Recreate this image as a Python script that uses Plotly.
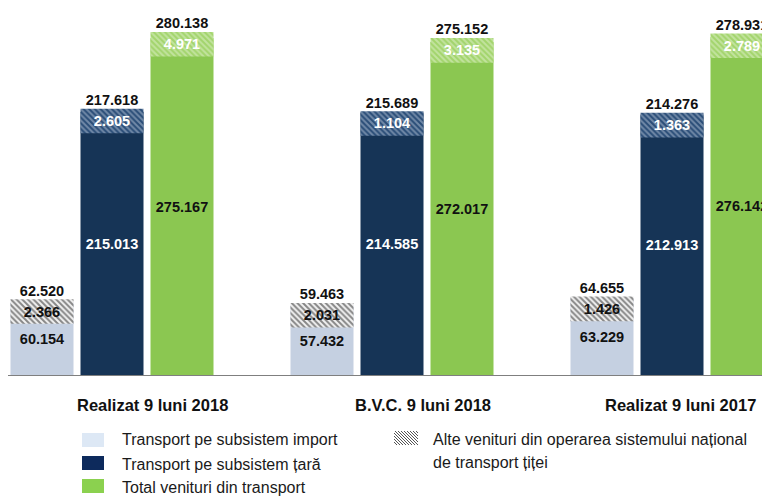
import plotly.graph_objects as go

categories = ["Realizat 9 luni 2018", "B.V.C. 9 luni 2018", "Realizat 9 luni 2017"]

# thousand lei, shown with "." as thousands separator
import_base = [60.154, 57.432, 63.229]
import_other = [2.366, 2.031, 1.426]
tara_base = [215.013, 214.585, 212.913]
tara_other = [2.605, 1.104, 1.363]
total_base = [275.167, 272.017, 276.142]
total_other = [4.971, 3.135, 2.789]

legend_names = [
    "Transport pe subsistem import",
    "Transport pe subsistem țară",
    "Total venituri din transport",
]
other_name = ["Alte venituri din operarea sistemului național", "de transport țiței"]

# the html page adds an 8px body margin, so the figure is 8px smaller
PAGE_PAD = 8
W, H = 770 - PAGE_PAD, 497 - PAGE_PAD
FONT = "Liberation Sans, Arial, sans-serif"
BAND = 20          # drawn height of the hatched "alte venituri" cap (axis units)
BAR_W = 0.225
OFFSETS = [-0.25, 0.0, 0.25]
BASELINE = 376     # plot bottom in window pixels
PLOT_H = BASELINE - PAGE_PAD


def fmt(v):
    return f"{v:.3f}"


series = [
    dict(base=import_base, other=import_other, color="#c5d0e1",
         band_bg="#f2f2f2", band_fg="#1a1a1a", txt="#111111", band_txt="#111111"),
    dict(base=tara_base, other=tara_other, color="#163456",
         band_bg="#2a4d77", band_fg="#b7c6d8", txt="#ffffff", band_txt="#ffffff"),
    dict(base=total_base, other=total_other, color="#8bc751",
         band_bg="#a2d46c", band_fg="#e2f2d0", txt="#111111", band_txt="#ffffff"),
]

fig = go.Figure()

for s, off, name in zip(series, OFFSETS, legend_names):
    xs = [i + off for i in range(len(categories))]
    totals = [b + o for b, o in zip(s["base"], s["other"])]

    fig.add_trace(go.Bar(
        x=xs, y=s["base"], width=BAR_W, name=name,
        marker=dict(color=s["color"], line=dict(width=0)),
        text=[f"<b>{fmt(v)}</b>" for v in s["base"]],
        textposition="inside", insidetextanchor="middle", constraintext="none",
        textfont=dict(family=FONT, size=14.5, color=s["txt"]),
        showlegend=False,
    ))
    # hatched cap for the "other revenues" part, sitting on top of the total
    fig.add_trace(go.Bar(
        x=xs, y=[BAND] * len(xs), base=[t - BAND for t in totals], width=BAR_W,
        marker=dict(
            color=s["band_bg"], line=dict(width=0),
            pattern=dict(shape="\\", size=4, solidity=0.5,
                         fgcolor=s["band_fg"], bgcolor=s["band_bg"]),
        ),
        text=[f"<b>{fmt(v)}</b>" for v in s["other"]],
        textposition="inside", insidetextanchor="middle", constraintext="none",
        textfont=dict(family=FONT, size=14.5, color=s["band_txt"]),
        showlegend=False,
    ))
    fig.add_trace(go.Scatter(
        x=xs, y=totals, mode="text",
        text=[f"<b>{fmt(v)}</b>" for v in totals],
        textposition="top center",
        textfont=dict(family=FONT, size=14.5, color="#111111"),
        cliponaxis=False, showlegend=False, hoverinfo="skip",
    ))


def px_x(p):
    return (p - PAGE_PAD) / W


def px_y(p):
    return (BASELINE - p) / PLOT_H


shapes = [
    # axis line
    dict(type="line", xref="paper", yref="y", x0=0, x1=1, y0=0, y1=0,
         line=dict(color="#7f7f7f", width=2)),
]
annotations = []

# category labels (sit slightly right of the group centres, as in the source)
for x, cat in zip([0.146, 1.11, 2.03], categories):
    annotations.append(dict(
        x=x, y=px_y(405), xref="x", yref="paper", text=f"<b>{cat}</b>",
        xanchor="center", yanchor="middle", showarrow=False,
        font=dict(family=FONT, size=16.5, color="#111111"),
    ))

# manual legend
legend_colors = ["#dde8f5", "#0d2a5c", "#8bd14f"]
for name, col, cy, ty in zip(legend_names, legend_colors, [440, 463, 486], [440, 464, 487]):
    shapes.append(dict(type="rect", xref="paper", yref="paper",
                       x0=px_x(82), x1=px_x(104), y0=px_y(cy - 7), y1=px_y(cy + 7),
                       fillcolor=col, line=dict(width=0)))
    annotations.append(dict(
        x=px_x(120), y=px_y(ty), xref="paper", yref="paper", text=name,
        xanchor="left", yanchor="middle", showarrow=False,
        font=dict(family=FONT, size=16, color="#1a1a1a"),
    ))

# hatched legend icon
x0, x1, y0, y1 = 394, 418, 431, 445
for k in range(0, 40, 3):
    a = x0 + k - 14
    b = a + 14
    sx0, sy0 = a, y0
    sx1, sy1 = b, y1
    if sx0 < x0:
        sy0 = y0 + (x0 - sx0)
        sx0 = x0
    if sx1 > x1:
        sy1 = y1 - (sx1 - x1)
        sx1 = x1
    if sx1 <= sx0 or sy1 <= sy0:
        continue
    shapes.append(dict(type="line", xref="paper", yref="paper",
                       x0=px_x(sx0), x1=px_x(sx1), y0=px_y(sy0), y1=px_y(sy1),
                       line=dict(color="#555555", width=1)))

for line_txt, ty in zip(other_name, [440, 463]):
    annotations.append(dict(
        x=px_x(431), y=px_y(ty), xref="paper", yref="paper", text=line_txt,
        xanchor="left", yanchor="middle", showarrow=False,
        font=dict(family=FONT, size=16, color="#1a1a1a"),
    ))

group0_px = 112 - PAGE_PAD   # centre of the first group, figure pixels
fig.update_layout(
    width=W, height=H,
    barmode="overlay",
    plot_bgcolor="white", paper_bgcolor="white",
    margin=dict(l=0, r=0, t=0, b=H - PLOT_H),
    xaxis=dict(range=[-group0_px / 280, (W - group0_px) / 280],
               visible=False, fixedrange=True),
    yaxis=dict(range=[0, PLOT_H / 1.228], visible=False, fixedrange=True),
    shapes=shapes,
    annotations=annotations,
    showlegend=False,
)

fig.write_html("out.html")
